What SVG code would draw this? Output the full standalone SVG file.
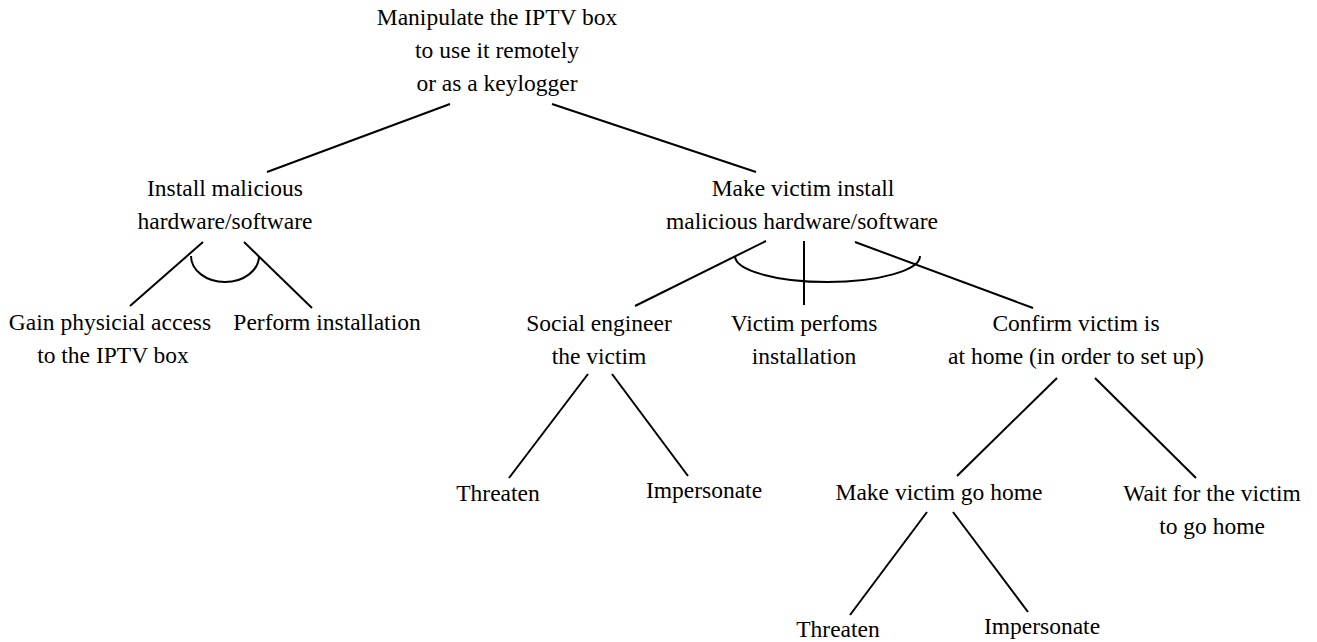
<svg xmlns="http://www.w3.org/2000/svg" width="1317" height="642" viewBox="0 0 1317 642">
<style>
text{font-family:'Liberation Serif','DejaVu Serif',serif;font-size:23.5px;fill:#000;text-anchor:middle}
.e line,.e path{stroke:#000;stroke-width:2;fill:none;stroke-linecap:butt}
</style>
<rect width="1317" height="642" fill="#fff"/>
<g id="connectors" class="e">
<line x1="450" y1="104" x2="267" y2="172"/>
<line x1="552" y1="104" x2="756" y2="172"/>
<line x1="203" y1="242" x2="130" y2="306"/>
<line x1="244" y1="242" x2="312" y2="308"/>
<path d="M191,256 A34,26 0 0 0 259,256"/>
<line x1="766" y1="241" x2="635" y2="306"/>
<line x1="804" y1="241" x2="804" y2="305"/>
<line x1="855" y1="242" x2="1033" y2="308"/>
<path d="M735,256 A92.5,26 0 0 0 920,256"/>
<line x1="588" y1="374" x2="509" y2="478"/>
<line x1="612" y1="374" x2="688" y2="476"/>
<line x1="1057" y1="378" x2="957" y2="476"/>
<line x1="1095" y1="378" x2="1196" y2="478"/>
<line x1="927" y1="512" x2="850" y2="615"/>
<line x1="953" y1="512" x2="1028" y2="612"/>
</g>
<g font-family="Liberation Serif, DejaVu Serif, serif">
<g id="root"><text x="497" y="25">Manipulate the IPTV box</text><text x="497" y="58">to use it remotely</text><text x="497" y="91">or as a keylogger</text></g>
<g id="install"><text x="225" y="196">Install malicious</text><text x="225" y="229">hardware/software</text></g>
<g id="make-install"><text x="803" y="196">Make victim install</text><text x="802" y="229">malicious hardware/software</text></g>
<g id="gain"><text x="110" y="330">Gain physicial access</text><text x="113" y="363">to the IPTV box</text></g>
<g id="perform"><text x="327" y="330">Perform installation</text></g>
<g id="social"><text x="599" y="331">Social engineer</text><text x="599" y="364">the victim</text></g>
<g id="victim-performs"><text x="804" y="331">Victim perfoms</text><text x="804" y="364">installation</text></g>
<g id="confirm"><text x="1076" y="331">Confirm victim is</text><text x="1076" y="364">at home (in order to set up)</text></g>
<g id="threaten1"><text x="498" y="501">Threaten</text></g>
<g id="impersonate1"><text x="704" y="498">Impersonate</text></g>
<g id="go-home"><text x="939" y="500">Make victim go home</text></g>
<g id="wait"><text x="1212" y="501">Wait for the victim</text><text x="1212" y="534">to go home</text></g>
<g id="threaten2"><text x="838" y="637">Threaten</text></g>
<g id="impersonate2"><text x="1042" y="634">Impersonate</text></g>
</g>
</svg>
